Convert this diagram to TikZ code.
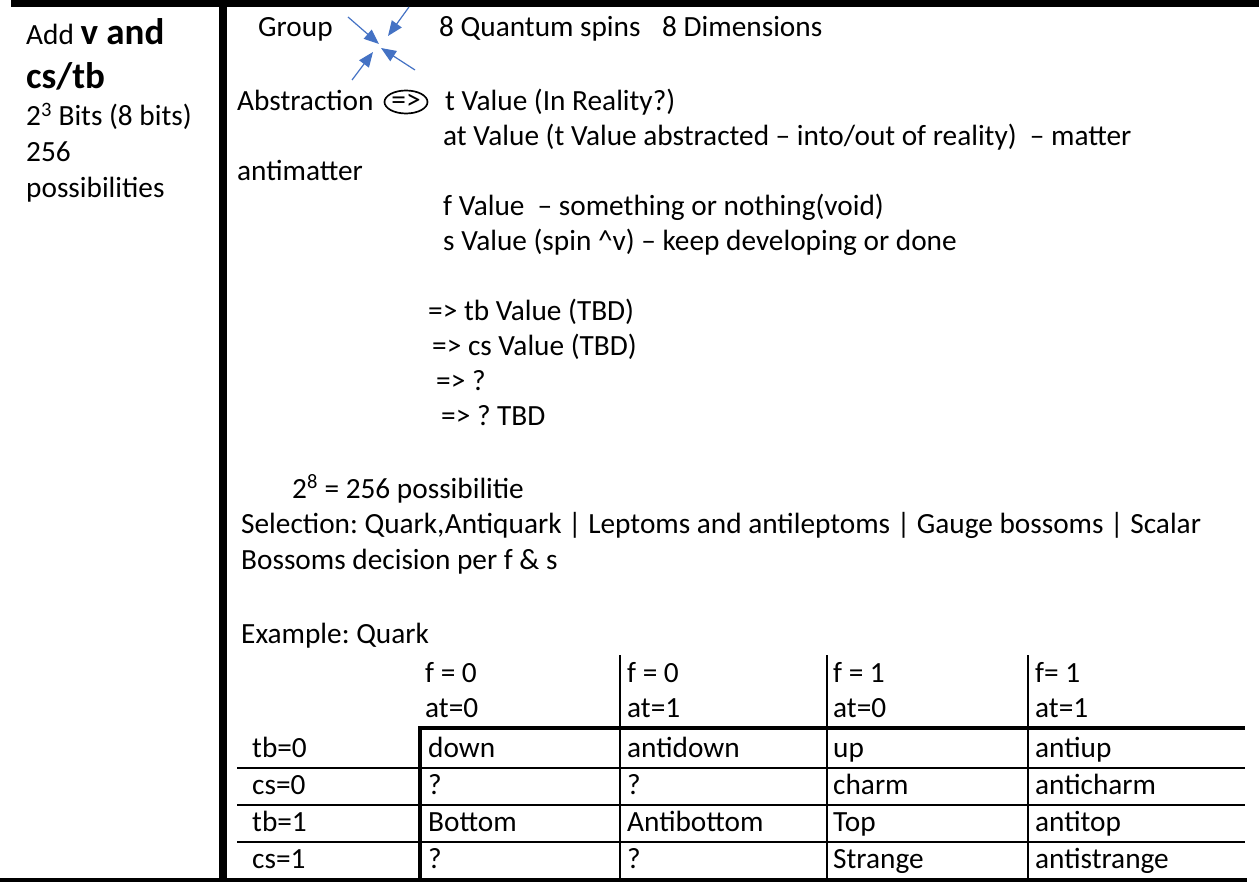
\documentclass[tikz,border=0pt]{standalone}
\usepackage{fontspec}
\setmainfont{Carlito}
\usetikzlibrary{arrows.meta,shapes.geometric}
\definecolor{wordblue}{RGB}{68,114,196}
\newcommand{\bodyfnt}{\fontsize{29.3}{35}\selectfont}
\newcommand{\headfnt}{\fontsize{37}{45}\selectfont\bfseries}
\frenchspacing

\begin{document}
\begin{tikzpicture}[x=1pt,y=-1pt,
  txt/.style={anchor=base west,inner sep=0pt,font=\bodyfnt},
  spin/.style={draw=wordblue,line width=1.2,-{Triangle[length=15pt,width=12pt]},wordblue}]
\useasboundingbox (0,0) rectangle (1259,882);

% frame of the page table
\draw[line width=7] (11,3.5) -- (1259,3.5);
\draw[line width=8] (223,0) -- (223,882);
\draw[line width=4] (0,880) -- (1247,880);

% left cell
\node[txt] (add) at (26,45) {Add {\headfnt v and}};
\node[txt,font=\headfnt] (cstb) at (26,89) {cs/tb};
\node[txt] (bits) at (26,126) {2\textsuperscript{3} Bits (8 bits)};
\node[txt] (n256) at (26,162) {256};
\node[txt] (poss) at (26,198) {possibilities};

% group line with the four spin arrows
\node[txt] (group) at (258,37) {Group};
\node[txt] (qspin) at (439,37) {8 Quantum spins};
\node[txt] (dims) at (662,37) {8 Dimensions};
\coordinate (s1) at (348,17);
\coordinate (e1) at (379,44);
\coordinate (s2) at (409,7);
\coordinate (e2) at (388,36);
\coordinate (s3) at (352,80);
\coordinate (e3) at (373,52);
\coordinate (s4) at (415,70);
\coordinate (e4) at (381,48);
\draw[spin] (s1) -- (e1);
\draw[spin] (s2) -- (e2);
\draw[spin] (s3) -- (e3);
\draw[spin] (s4) -- (e4);

% abstraction
\node[txt] (abst) at (237,111) {Abstraction};
\node[draw,ellipse,line width=1.7,inner sep=0pt,minimum width=43,minimum height=23,font=\bodyfnt] (impl) at (406,102) {=>};
\node[txt] (tval) at (445,111) {t Value (In Reality?)};
\node[txt] (atval) at (443,146) {at Value (t Value abstracted – into/out of reality)\ \ – matter};
\node[txt] (anti) at (237,181) {antimatter};
\node[txt] (fval) at (443,216) {f Value\ \ – something or nothing(void)};
\node[txt] (sval) at (443,251) {s Value (spin \textasciicircum v) – keep developing or done};
\node[txt] (tbv) at (428,321) {=> tb Value (TBD)};
\node[txt] (csv) at (432,356) {=> cs Value (TBD)};
\node[txt] (q1) at (436,391) {=> ?};
\node[txt] (q2) at (441,426) {=> ? TBD};

% possibilities
\node[txt] (pow) at (292,498) {2\textsuperscript{8} = 256 possibilitie};
\node[txt] (sel) at (241,533) {Selection: Quark,Antiquark | Leptoms and antileptoms | Gauge bossoms | Scalar};
\node[txt] (sel2) at (241,569) {Bossoms decision per f \& s};
\node[txt] (expl) at (241,643) {Example: Quark};

% quark table
\draw[line width=4.5] (418,728) -- (1245,728);
\draw[line width=4.5] (420,726) -- (420,880);
\draw[line width=2] (237,768) -- (1245,768);
\draw[line width=2] (237,805) -- (1245,805);
\draw[line width=2] (237,842) -- (1245,842);
\draw[line width=1.5] (620,655) -- (620,880);
\draw[line width=1.5] (827,655) -- (827,880);
\draw[line width=1.5] (1028,655) -- (1028,880);

\node[txt] (h1f) at (425,682) {f = 0};
\node[txt] (h1a) at (425,717) {at=0};
\node[txt] (h2f) at (627,682) {f = 0};
\node[txt] (h2a) at (627,717) {at=1};
\node[txt] (h3f) at (833,682) {f = 1};
\node[txt] (h3a) at (833,717) {at=0};
\node[txt] (h4f) at (1035,682) {f= 1};
\node[txt] (h4a) at (1035,717) {at=1};

\node[txt] (r1) at (252,757) {tb=0};
\node[txt] (r2) at (252,794) {cs=0};
\node[txt] (r3) at (252,831) {tb=1};
\node[txt] (r4) at (252,868) {cs=1};

\node[txt] (down) at (428,757) {down};
\node[txt] (adown) at (627,757) {antidown};
\node[txt] (up) at (833,757) {up};
\node[txt] (aup) at (1035,757) {antiup};
\node[txt] (c1) at (428,794) {?};
\node[txt] (c2) at (627,794) {?};
\node[txt] (charm) at (833,794) {charm};
\node[txt] (acharm) at (1035,794) {anticharm};
\node[txt] (bot) at (428,831) {Bottom};
\node[txt] (abot) at (627,831) {Antibottom};
\node[txt] (top) at (833,831) {Top};
\node[txt] (atop) at (1035,831) {antitop};
\node[txt] (s1q) at (428,868) {?};
\node[txt] (s2q) at (627,868) {?};
\node[txt] (strange) at (833,868) {Strange};
\node[txt] (astrange) at (1035,868) {antistrange};
\end{tikzpicture}
\end{document}
